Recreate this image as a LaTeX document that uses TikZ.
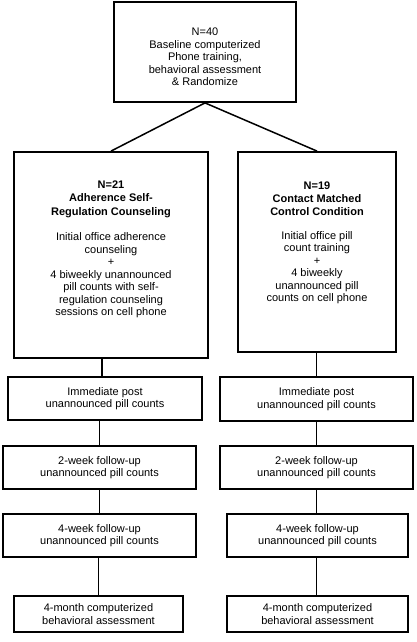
\documentclass[tikz,border=0pt]{standalone}
\usepackage{fontspec}
\setmainfont{Liberation Sans}
\begin{document}
\begin{tikzpicture}[x=1pt,y=-1pt,
  box/.style={draw=black,line width=1.8pt,rectangle,align=center,inner sep=0pt,
    font=\fontsize{11}{12.5}\selectfont},
  txt/.style={align=center,inner sep=0pt,font=\fontsize{11}{12.5}\selectfont},
  conn/.style={draw=black,line width=1.5pt}]
\useasboundingbox (0,0) rectangle (416,642);
% top
\node[box,minimum width=182pt,minimum height=100pt] (top) at (205,52) {};
\node[txt] (toptext) at (205,57)
  {N=40\\Baseline computerized\\Phone training,\\behavioral assessment\\\& Randomize};
% arms
\node[box,minimum width=194pt,minimum height=206pt] (Lbig) at (111,255)
  {\textbf{N=21}\\[0.8pt]\textbf{Adherence Self-}\\[0.8pt]\textbf{Regulation Counseling}\\[13pt]
   Initial office adherence\\counseling\\+\\4 biweekly unannounced\\pill counts with self-\\regulation counseling\\sessions on cell phone\\[1pt]};
\node[box,minimum width=158pt,minimum height=200pt] (Rbig) at (317,252)
  {\textbf{N=19}\\[0.8pt]\textbf{Contact Matched}\\[0.8pt]\textbf{Control Condition}\\[11pt]
   Initial office pill\\count training\\+\\4 biweekly\\unannounced pill\\counts on cell phone\\[8pt]};
% left column
\node[box,minimum width=194pt,minimum height=43pt] (Limm) at (105,398.5)
  {Immediate post\\unannounced pill counts};
\node[box,minimum width=193pt,minimum height=43pt] (L2wk) at (99.5,467.5)
  {2-week follow-up\\unannounced pill counts};
\node[box,minimum width=193pt,minimum height=43pt] (L4wk) at (99.5,535.5)
  {4-week follow-up\\unannounced pill counts};
\node[box,minimum width=169pt,minimum height=36pt] (L4mo) at (98.5,614)
  {4-month computerized\\behavioral assessment};
% right column
\node[box,minimum width=193pt,minimum height=44pt] (Rimm) at (316.5,399)
  {Immediate post\\unannounced pill counts};
\node[box,minimum width=193pt,minimum height=43pt] (R2wk) at (316.5,467.5)
  {2-week follow-up\\unannounced pill counts};
\node[box,minimum width=181pt,minimum height=43pt] (R4wk) at (317.5,535.5)
  {4-week follow-up\\unannounced pill counts};
\node[box,minimum width=181pt,minimum height=36pt] (R4mo) at (317.5,614)
  {4-month computerized\\behavioral assessment};
% connectors
\draw[conn] (top.south) -- (Lbig.north);
\draw[conn] (top.south) -- (Rbig.north);
\draw[conn] ([xshift=-3pt]Limm.north |- Lbig.south) -- ([xshift=-3pt]Limm.north);
\draw[conn] (L2wk.north |- Limm.south) -- (L2wk.north);
\draw[conn] (L4wk.north |- L2wk.south) -- (L4wk.north);
\draw[conn] (L4mo.north |- L4wk.south) -- (L4mo.north);
\draw[conn] (Rimm.north |- Rbig.south) -- (Rimm.north);
\draw[conn] (R2wk.north |- Rimm.south) -- (R2wk.north);
\draw[conn] ([xshift=-1pt]R4wk.north |- R2wk.south) -- ([xshift=-1pt]R4wk.north);
\draw[conn] ([xshift=-1pt]R4mo.north |- R4wk.south) -- ([xshift=-1pt]R4mo.north);
\end{tikzpicture}
\end{document}
